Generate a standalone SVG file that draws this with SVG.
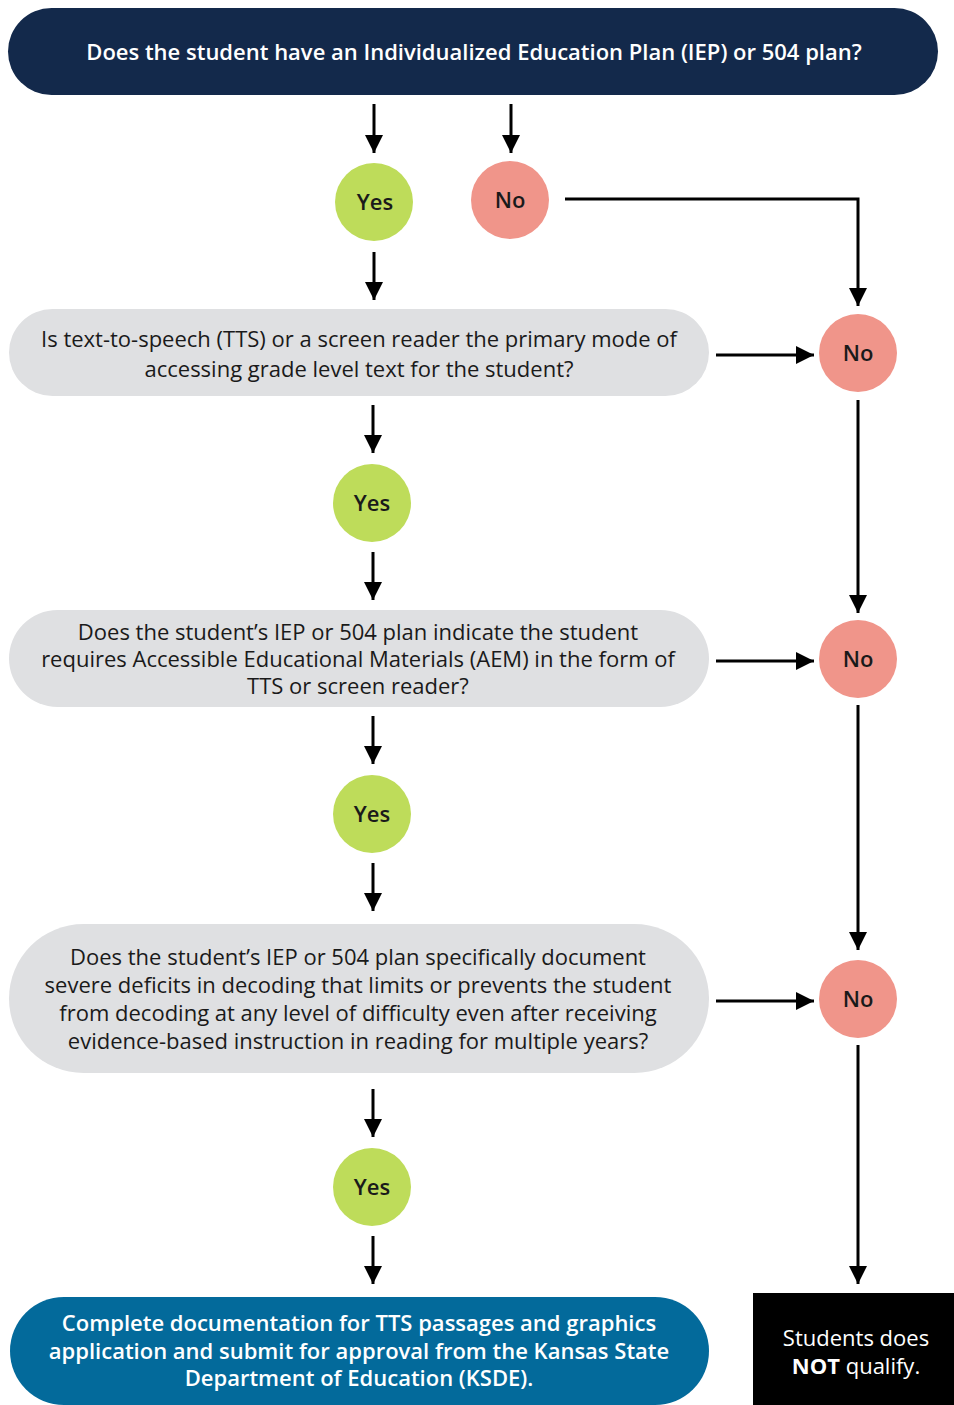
<svg xmlns="http://www.w3.org/2000/svg" width="954" height="1405" viewBox="0 0 954 1405">
<defs>
<marker id="ah" viewBox="0 0 10 10" refX="10" refY="5" markerWidth="6" markerHeight="6" markerUnits="strokeWidth" orient="auto">
<path d="M0,0 L10,5 L0,10 z" fill="#000"/>
</marker>
<style>
.t{font-family:"Open Sans","Liberation Sans",sans-serif;font-size:22px;fill:#1a1a1a;text-anchor:middle}
.w{fill:#fff}
.b{font-weight:600}
.bb{font-weight:700}
.c{stroke:#000;stroke-width:3;fill:none}
.a{marker-end:url(#ah)}
.yes{fill:#bedc5a}
.no{fill:#f0958a}
.q{fill:#dfe0e2}
</style>
</defs>
<rect width="954" height="1405" fill="#fff"/>
<g id="connectors">
<line class="c a" x1="374" y1="104" x2="374" y2="153"/>
<line class="c a" x1="511" y1="104" x2="511" y2="153"/>
<polyline class="c a" points="565,199 858,199 858,306"/>
<line class="c a" x1="374" y1="252" x2="374" y2="300"/>
<line class="c a" x1="716" y1="355" x2="814" y2="355"/>
<line class="c a" x1="858" y1="400" x2="858" y2="613"/>
<line class="c a" x1="373" y1="405" x2="373" y2="453"/>
<line class="c a" x1="373" y1="552" x2="373" y2="600"/>
<line class="c a" x1="716" y1="661" x2="814" y2="661"/>
<line class="c a" x1="858" y1="705" x2="858" y2="950"/>
<line class="c a" x1="373" y1="716" x2="373" y2="764"/>
<line class="c a" x1="373" y1="863" x2="373" y2="911"/>
<line class="c a" x1="716" y1="1001" x2="814" y2="1001"/>
<line class="c a" x1="858" y1="1045" x2="858" y2="1284"/>
<line class="c a" x1="373" y1="1089" x2="373" y2="1137"/>
<line class="c a" x1="373" y1="1236" x2="373" y2="1284"/>
</g>
<g id="q1">
<rect x="8" y="8" width="930" height="87" rx="43.5" fill="#13294b"/>
<text class="t w b" x="474" y="60">Does the student have an Individualized Education Plan (IEP) or 504 plan?</text>
</g>
<g id="yes1"><circle class="yes" cx="374" cy="202" r="39"/><text class="t b" x="375" y="210">Yes</text></g>
<g id="no1"><circle class="no" cx="510" cy="200" r="39"/><text class="t b" x="510" y="208">No</text></g>
<g id="q2">
<rect class="q" x="9" y="309" width="700" height="87" rx="43.5"/>
<text class="t" x="359" y="347">Is text-to-speech (TTS) or a screen reader the primary mode of</text>
<text class="t" x="359" y="377">accessing grade level text for the student?</text>
</g>
<g id="no2"><circle class="no" cx="858" cy="353" r="39"/><text class="t b" x="858" y="361">No</text></g>
<g id="yes2"><circle class="yes" cx="372" cy="503" r="39"/><text class="t b" x="372" y="511">Yes</text></g>
<g id="q3">
<rect class="q" x="9" y="610" width="700" height="97" rx="48.5"/>
<text class="t" x="358" y="640">Does the student’s IEP or 504 plan indicate the student</text>
<text class="t" x="358" y="667">requires Accessible Educational Materials (AEM) in the form of</text>
<text class="t" x="358" y="694">TTS or screen reader?</text>
</g>
<g id="no3"><circle class="no" cx="858" cy="659" r="39"/><text class="t b" x="858" y="667">No</text></g>
<g id="yes3"><circle class="yes" cx="372" cy="814" r="39"/><text class="t b" x="372" y="822">Yes</text></g>
<g id="q4">
<rect class="q" x="9" y="924" width="700" height="149" rx="74.5"/>
<text class="t" x="358" y="965">Does the student’s IEP or 504 plan specifically document</text>
<text class="t" x="358" y="993">severe deficits in decoding that limits or prevents the student</text>
<text class="t" x="358" y="1021">from decoding at any level of difficulty even after receiving</text>
<text class="t" x="358" y="1049">evidence-based instruction in reading for multiple years?</text>
</g>
<g id="no4"><circle class="no" cx="858" cy="999" r="39"/><text class="t b" x="858" y="1007">No</text></g>
<g id="yes4"><circle class="yes" cx="372" cy="1187" r="39"/><text class="t b" x="372" y="1195">Yes</text></g>
<g id="result-yes">
<rect x="10" y="1297" width="699" height="108" rx="54" fill="#036a9b"/>
<text class="t w b" x="359" y="1331">Complete documentation for TTS passages and graphics</text>
<text class="t w b" x="359" y="1359">application and submit for approval from the Kansas State</text>
<text class="t w b" x="359" y="1386">Department of Education (KSDE).</text>
</g>
<g id="result-no">
<rect x="753" y="1293" width="201" height="112" fill="#000"/>
<text class="t w" x="856" y="1346">Students does</text>
<text class="t w" x="856" y="1374"><tspan class="bb">NOT</tspan> qualify.</text>
</g>
</svg>
